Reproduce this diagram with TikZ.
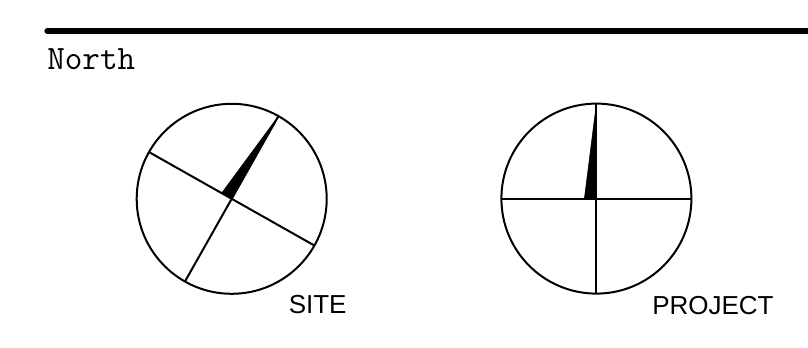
\documentclass[tikz,border=0pt]{standalone}
\usepackage{fontspec}
\setmainfont{Liberation Sans}
\setmonofont{Latin Modern Mono}
\tikzset{
  rule/.style={line width=4.7pt,line cap=round},
  dial/.style={draw,circle,line width=1.5pt,minimum size=142.5pt,inner sep=0pt},
  spoke/.style={line width=1.5pt},
  wedge/.style={fill=black,draw=black,line width=0.4pt,line join=round},
  dialtag/.style={anchor=base west,inner sep=0pt,font=\fontsize{19.5pt}{21pt}\selectfont},
  heading/.style={anchor=base west,inner sep=0pt,font=\ttfamily\fontsize{25.6pt}{27pt}\selectfont}
}
\begin{document}
\begin{tikzpicture}[x=0.75pt,y=-0.75pt]
\useasboundingbox (0,0) rectangle (808,347);
\coordinate (ruleL) at (47.5,31);
\coordinate (ruleR) at (812,31);
\draw[rule] (ruleL) -- (ruleR);
\node[heading] (north) at (47,69) {North};
% site
\node[dial] (site) at (231.7,198.8) {};
\coordinate (sN) at (278.6,115.8);
\coordinate (sS) at (184.8,281.8);
\coordinate (sW) at (148.7,151.9);
\coordinate (sE) at (314.7,245.7);
\coordinate (sB) at (221.7,193);
\fill[wedge] (sN) -- (sB) -- (site.center) -- cycle;
\draw[spoke] (sN) -- (sS);
\draw[spoke] (sW) -- (sE);
\node[dialtag] (sitelabel) at (288.5,313) {SITE};
% project
\node[dial] (proj) at (596.4,198.6) {};
\coordinate (pN) at (596.4,103.3);
\coordinate (pS) at (596.4,293.9);
\coordinate (pW) at (501.1,198.6);
\coordinate (pE) at (691.7,198.6);
\coordinate (pB) at (584.4,198.6);
\fill[wedge] (pN) -- (pB) -- (proj.center) -- cycle;
\draw[spoke] (pN) -- (pS);
\draw[spoke] (pW) -- (pE);
\node[dialtag] (projlabel) at (652,314) {PROJECT};
\end{tikzpicture}
\end{document}
